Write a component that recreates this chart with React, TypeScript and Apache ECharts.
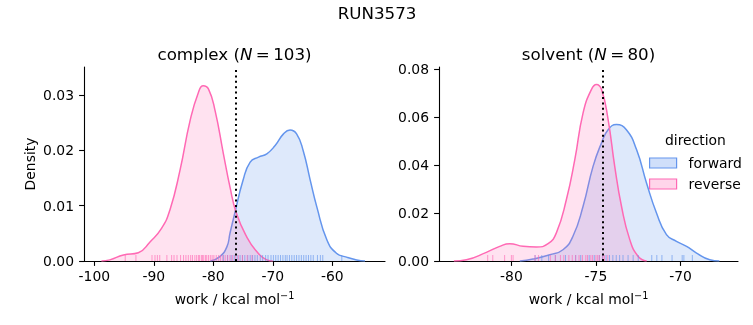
import React, { useEffect, useRef } from "react";
import * as echarts from "echarts";

const FONT = "DejaVu Sans";
const BLUE = "#6495ED";
const PINK = "#FF69B4";
const BLUE_FILL = "rgba(100,149,237,0.3)";
const PINK_FILL = "rgba(255,105,180,0.28)";

const seriesNames = ["forward", "reverse"];
const panelTitles = ["complex", "solvent"];
const panelN = [103, 80];
const dottedLines = [-76.2, -74.6];

// complex panel KDE
const complexForwardX = [-80.5, -78.9, -77.7, -77.2, -76.4, -75.0, -73.8, -72.4, -71.0, -69.6, -68.2, -67.1, -66.0, -64.9, -63.7, -62.6, -60.9, -59.3, -57.6, -55.9, -54.5];
const complexForwardY = [0.0, 0.0008, 0.0026, 0.005, 0.0086, 0.0146, 0.0179, 0.0188, 0.0194, 0.0209, 0.023, 0.0237, 0.023, 0.02, 0.0146, 0.0098, 0.0038, 0.0014, 0.0007, 0.0002, 0.0];
const complexReverseX = [-98.8, -97.4, -95.1, -92.6, -90.6, -88.7, -87.3, -85.6, -83.9, -82.5, -81.7, -80.8, -79.7, -78.3, -77.2, -76.1, -74.4, -72.7, -71.0, -70.0];
const complexReverseY = [0.0, 0.0002, 0.0011, 0.0015, 0.0035, 0.0059, 0.0092, 0.0164, 0.0254, 0.0305, 0.0317, 0.0311, 0.0272, 0.0194, 0.0134, 0.0086, 0.0044, 0.0017, 0.0002, 0.0];

// solvent panel KDE
const solventForwardX = [-79.5, -78.72, -77.73, -76.95, -76.36, -75.76, -75.17, -74.67, -74.28, -73.79, -73.2, -72.6, -72.01, -71.42, -70.83, -70.24, -69.64, -69.05, -68.27, -67.7];
const solventForwardY = [0.0, 0.0008, 0.0026, 0.0047, 0.0103, 0.0228, 0.0394, 0.0492, 0.0547, 0.0568, 0.0547, 0.0464, 0.0325, 0.02, 0.011, 0.0082, 0.0061, 0.0033, 0.0005, 0.0];
const solventReverseX = [-83.4, -82.66, -81.48, -80.69, -80.1, -79.31, -78.52, -77.83, -77.34, -76.75, -76.25, -75.76, -75.27, -74.97, -74.67, -74.28, -73.89, -73.49, -73.0, -72.5, -72.0];
const solventReverseY = [0.0, 0.0005, 0.0036, 0.0061, 0.0072, 0.0061, 0.0058, 0.0072, 0.0117, 0.0255, 0.0422, 0.0617, 0.0714, 0.0735, 0.0714, 0.0589, 0.0394, 0.0228, 0.0089, 0.0019, 0.0];

// rug samples
const complexForwardRug = [-78.3, -77.6, -77.0, -76.5, -76.0, -75.5, -75.1, -74.7, -74.2, -73.8, -73.4, -73.0, -72.6, -72.1, -71.7, -71.2, -70.8, -70.3, -69.9, -69.5, -69.1, -68.7, -68.3, -67.9, -67.6, -67.2, -66.8, -66.4, -66.0, -65.6, -65.2, -64.8, -64.4, -64.0, -63.6, -63.2, -62.5, -62.0, -61.6, -58.4];
const complexReverseRug = [-94.8, -93.0, -90.3, -89.8, -89.4, -89.0, -87.8, -87.0, -86.6, -86.1, -85.5, -85.0, -84.6, -84.2, -83.8, -83.5, -83.1, -82.8, -82.5, -82.3, -82.0, -81.8, -81.6, -81.3, -81.1, -80.8, -80.5, -80.2, -79.9, -79.5, -79.1, -78.8, -78.4, -78.0, -77.6, -77.2, -76.8, -76.3, -75.8, -75.1, -74.3, -73.5];
const solventForwardRug = [-78.6, -78.2, -77.8, -77.4, -76.8, -76.2, -75.9, -75.4, -75.1, -74.8, -74.6, -74.4, -74.2, -74.0, -73.8, -73.6, -73.4, -73.1, -72.8, -72.5, -71.7, -71.4, -71.1, -70.5, -69.9, -69.8, -69.3];
const solventReverseRug = [-81.4, -81.1, -80.4, -80.0, -79.9, -78.6, -78.4, -77.7, -77.4, -77.1, -76.9, -76.6, -76.4, -76.2, -76.0, -75.8, -75.6, -75.5, -75.3, -75.2, -75.0, -74.9, -74.8, -74.6, -74.5, -74.3];

// axes
const xRanges = [[-101.73, -51.14], [-84.28, -66.6]];
const yRanges = [[0, 0.0351], [0, 0.0808]];
const xTicks = [[-100, -90, -80, -70, -60], [-80, -75, -70]];
const yTicks = [[0, 0.01, 0.02, 0.03], [0, 0.02, 0.04, 0.06, 0.08]];

const zip = (xs: number[], ys: number[]) => xs.map((x, i) => [x, ys[i]]);

export default function App() {
  const ref = useRef<HTMLDivElement>(null);
  useEffect(() => {
    const chart = echarts.init(ref.current!, null, { renderer: "svg" });
    const curves = [
      [zip(complexForwardX, complexForwardY), zip(complexReverseX, complexReverseY)],
      [zip(solventForwardX, solventForwardY), zip(solventReverseX, solventReverseY)],
    ];
    const rugs = [
      [complexForwardRug, complexReverseRug],
      [solventForwardRug, solventReverseRug],
    ];
    const lineColors = [BLUE, PINK];
    const fillColors = [BLUE_FILL, PINK_FILL];

    const series: any[] = [];
    for (let p = 0; p < 2; p++) {
      for (let s = 0; s < 2; s++) {
        series.push({
          type: "line",
          name: seriesNames[s],
          xAxisIndex: p,
          yAxisIndex: p,
          data: curves[p][s],
          smooth: 0.5,
          showSymbol: false,
          symbol: "none",
          lineStyle: { color: lineColors[s], width: 1.5 },
          itemStyle: { color: lineColors[s] },
          areaStyle: { color: fillColors[s], origin: "start" },
          z: 2 + s,
        });
      }
      for (let s = 0; s < 2; s++) {
        series.push({
          type: "scatter",
          name: "rug-" + seriesNames[s] + "-" + p,
          xAxisIndex: p,
          yAxisIndex: p,
          data: rugs[p][s].map((v) => [v, 0]),
          symbol: "rect",
          symbolSize: [1, 6],
          symbolOffset: [0, -3],
          itemStyle: { color: lineColors[s], opacity: 0.65 },
          clip: false,
          silent: true,
          z: 4,
        });
      }
      series.push({
        type: "line",
        name: "vline-" + p,
        xAxisIndex: p,
        yAxisIndex: p,
        data: [],
        markLine: {
          silent: true,
          symbol: ["none", "none"],
          label: { show: false },
          lineStyle: { color: "#000", type: [2, 3.4], width: 2 },
          data: [{ xAxis: dottedLines[p] }],
        },
        z: 5,
      });
    }

    const grids = [
      { left: 84, top: 67, width: 301, height: 194 },
      { left: 439, top: 67, width: 299, height: 194 },
    ];

    const xAxes = [0, 1].map((p) => ({
      type: "value",
      gridIndex: p,
      min: xRanges[p][0],
      max: xRanges[p][1],
      name: "work / kcal mol{sup|−1}",
      nameLocation: "middle",
      nameGap: 29,
      nameTextStyle: {
        fontFamily: FONT,
        fontSize: 13.9,
        color: "#000",
        rich: {
          sup: { fontFamily: FONT, fontSize: 9.7, color: "#000", verticalAlign: "top", padding: [0, 0, 7, 0] },
        },
      },
      axisLine: { show: true, onZero: false, lineStyle: { color: "#000", width: 1.1 } },
      axisTick: { show: true, inside: false, length: 4.9, lineStyle: { color: "#000", width: 1.1 }, customValues: xTicks[p] },
      axisLabel: { show: true, margin: 8, fontFamily: FONT, fontSize: 13.9, color: "#000", customValues: xTicks[p] },
      splitLine: { show: false },
    }));

    const yAxes = [0, 1].map((p) => ({
      type: "value",
      gridIndex: p,
      min: yRanges[p][0],
      max: yRanges[p][1],
      name: p === 0 ? "Density" : "",
      nameLocation: "middle",
      nameGap: 47,
      nameRotate: 90,
      nameTextStyle: { fontFamily: FONT, fontSize: 13.9, color: "#000" },
      axisLine: { show: true, lineStyle: { color: "#000", width: 1.1 } },
      axisTick: { show: true, inside: false, length: 4.9, lineStyle: { color: "#000", width: 1.1 }, customValues: yTicks[p] },
      axisLabel: {
        show: true,
        margin: 10,
        fontFamily: FONT,
        fontSize: 13.9,
        color: "#000",
        customValues: yTicks[p],
        formatter: (v: number) => v.toFixed(2),
      },
      splitLine: { show: false },
    }));

    const titles: any[] = [
      {
        text: "RUN3573",
        left: 377,
        top: 4,
        padding: 0,
        textAlign: "center",
        textStyle: { fontFamily: FONT, fontSize: 16.7, fontWeight: "normal", color: "#000" },
      },
    ];
    for (let p = 0; p < 2; p++) {
      titles.push({
        text: panelTitles[p] + " ({n|N}\u2009=\u2009" + panelN[p] + ")",
        left: grids[p].left + grids[p].width / 2,
        top: 45,
        padding: 0,
        textAlign: "center",
        textStyle: {
          fontFamily: FONT,
          fontSize: 16.7,
          fontWeight: "normal",
          color: "#000",
          rich: { n: { fontFamily: FONT, fontSize: 16.7, fontStyle: "italic", color: "#000" } },
        },
      });
    }

    chart.setOption({
      animation: false,
      textStyle: { fontFamily: FONT },
      title: titles,
      grid: grids,
      xAxis: xAxes,
      yAxis: yAxes,
      legend: {
        show: true,
        orient: "vertical",
        left: 649,
        top: 156,
        padding: 0,
        itemWidth: 27,
        itemHeight: 10,
        itemGap: 7,
        icon: "rect",
        selectedMode: false,
        textStyle: { fontFamily: FONT, fontSize: 13.9, color: "#000", padding: [0, 0, 0, 7], lineHeight: 14 },
        data: [
          { name: seriesNames[0], itemStyle: { color: BLUE_FILL, borderColor: BLUE, borderWidth: 1.2 } },
          { name: seriesNames[1], itemStyle: { color: PINK_FILL, borderColor: PINK, borderWidth: 1.2 } },
        ],
      },
      graphic: [
        {
          type: "text",
          left: 665,
          top: 133,
          style: { text: "direction", fontFamily: FONT, fontSize: 13.9, fill: "#000" },
        },
      ],
      series,
    });
    return () => chart.dispose();
  }, []);
  return <div ref={ref} style={{ position: "fixed", left: 0, top: 0, width: 753, height: 325 }} />;
}
